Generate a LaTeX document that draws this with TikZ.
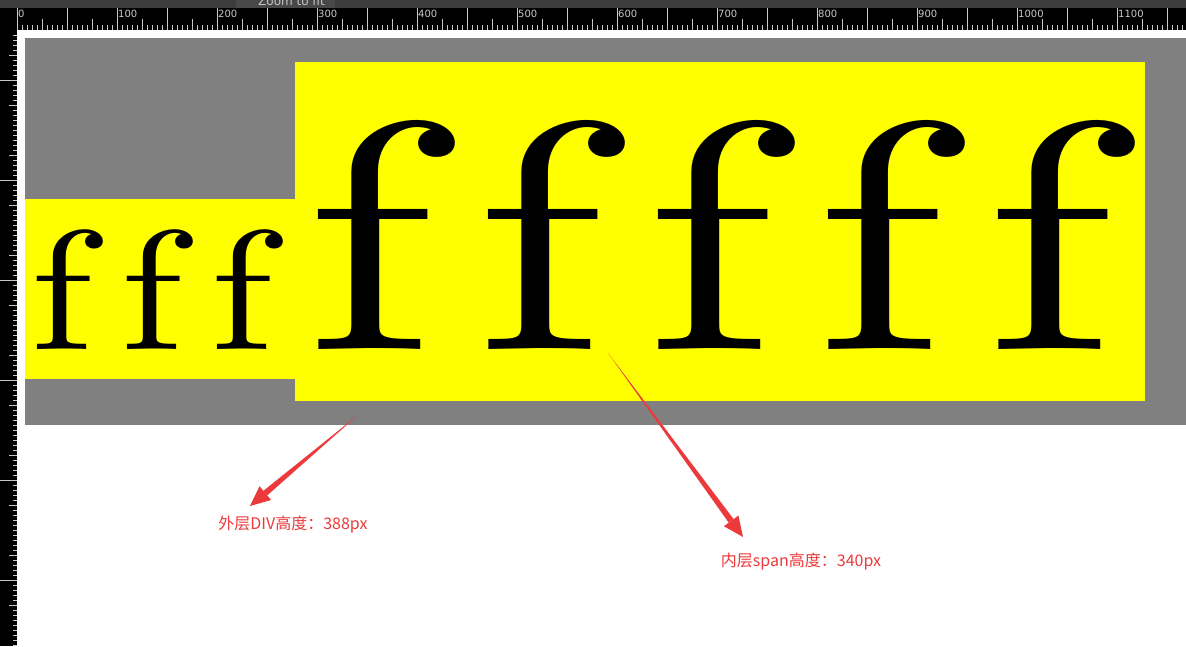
\documentclass[tikz,border=0pt]{standalone}
\usepackage{fontspec}
\newfontfamily\cjk{Noto Sans CJK SC}
\newfontfamily\rulerfont{DejaVu Sans}
\newfontfamily\lmten{lmroman10-regular}[Extension=.otf]
\usetikzlibrary{calc}
\definecolor{boxgray}{RGB}{128,128,128}
\definecolor{spanyellow}{RGB}{255,255,0}
\definecolor{markred}{RGB}{236,58,60}
\definecolor{tickgray}{RGB}{200,200,200}
\definecolor{barbg}{RGB}{60,60,60}
\definecolor{btnbg}{RGB}{72,72,72}
% tapered annotation arrow, tail -> tip
\newcommand{\taperarrow}[2]{%
  \path ($(#2)!20pt!(#1)$) coordinate (hb);
  \fill[markred] (#1) -- ($(hb)!3pt!90:(#1)$) -- ($(hb)!3pt!-90:(#1)$) -- cycle;
  \fill[markred] (#2) -- ($(hb)!9pt!90:(#1)$) -- ($(hb)!9pt!-90:(#1)$) -- cycle;
}
\begin{document}
\begin{tikzpicture}[x=1pt,y=-1pt,
  bigf/.style={inner sep=0, anchor=base, xscale=1.3, font=\lmten\fontsize{325}{325}\selectfont},
  smallf/.style={inner sep=0, anchor=base, xscale=1.2, font=\lmten\fontsize{170}{170}\selectfont},
  note/.style={inner sep=0, text=markred, font=\cjk\fontsize{16}{16}\selectfont},
  rulernum/.style={inner sep=0, anchor=north west, text=tickgray, font=\rulerfont\fontsize{10}{10}\selectfont}]
\useasboundingbox (0,0) rectangle (1186,646);
\fill[white] (0,0) rectangle (1186,646);

% toolbar and rulers
\fill[barbg] (0,0) rectangle (1186,8);
\fill[btnbg] (236,0) rectangle (335,8);
\begin{scope}
\clip (0,0) rectangle (1186,8);
\node[inner sep=0, anchor=base west, text=tickgray, font=\rulerfont\fontsize{12}{12}\selectfont] (zoomfit) at (258,5) {Zoom to fit};
\end{scope}
\fill[black] (0,8) rectangle (1186,30);
\fill[black] (0,30) rectangle (17,646);
\foreach \x in {22,27,...,1186} \draw[tickgray] (\x,25) -- (\x,30);
\foreach \x in {42,92,...,1186} \draw[tickgray] (\x,19) -- (\x,30);
\foreach \x in {17,67,...,1186} \draw[tickgray] (\x,8) -- (\x,30);
\foreach \n [evaluate=\n as \v using int(100*\n)] in {0,...,11}
  \node[rulernum] (num\n) at ({18+\v},10) {\v};
\foreach \y in {35,40,...,646} \draw[tickgray] (13,\y) -- (17,\y);
\foreach \y in {55,105,...,646} \draw[tickgray] (9,\y) -- (17,\y);
\foreach \y in {80,180,...,646} \draw[tickgray] (0,\y) -- (17,\y);

% outer div and spans
\fill[boxgray] (25,38) rectangle (1186,425);
\fill[spanyellow] (25,199) rectangle (295,379);
\fill[spanyellow] (295,62) rectangle (1145,401);

\node[smallf] (sf1) at (62,349) {f};
\node[smallf] (sf2) at (152,349) {f};
\node[smallf] (sf3) at (242,349) {f};
\node[bigf] (bf1) at (369,349) {f};
\node[bigf] (bf2) at (539,349) {f};
\node[bigf] (bf3) at (709,349) {f};
\node[bigf] (bf4) at (879,349) {f};
\node[bigf] (bf5) at (1049,349) {f};

% notes
\node[note] (outerlbl) at (293,525) {外层DIV高度：388px};
\node[note] (innerlbl) at (801,562) {内层span高度：340px};
\coordinate (outertail) at (358,415);
\coordinate (outertip) at (250,506);
\coordinate (innertail) at (608,353);
\coordinate (innertip) at (743,537);
\taperarrow{outertail}{outertip}
\taperarrow{innertail}{innertip}
\end{tikzpicture}
\end{document}
